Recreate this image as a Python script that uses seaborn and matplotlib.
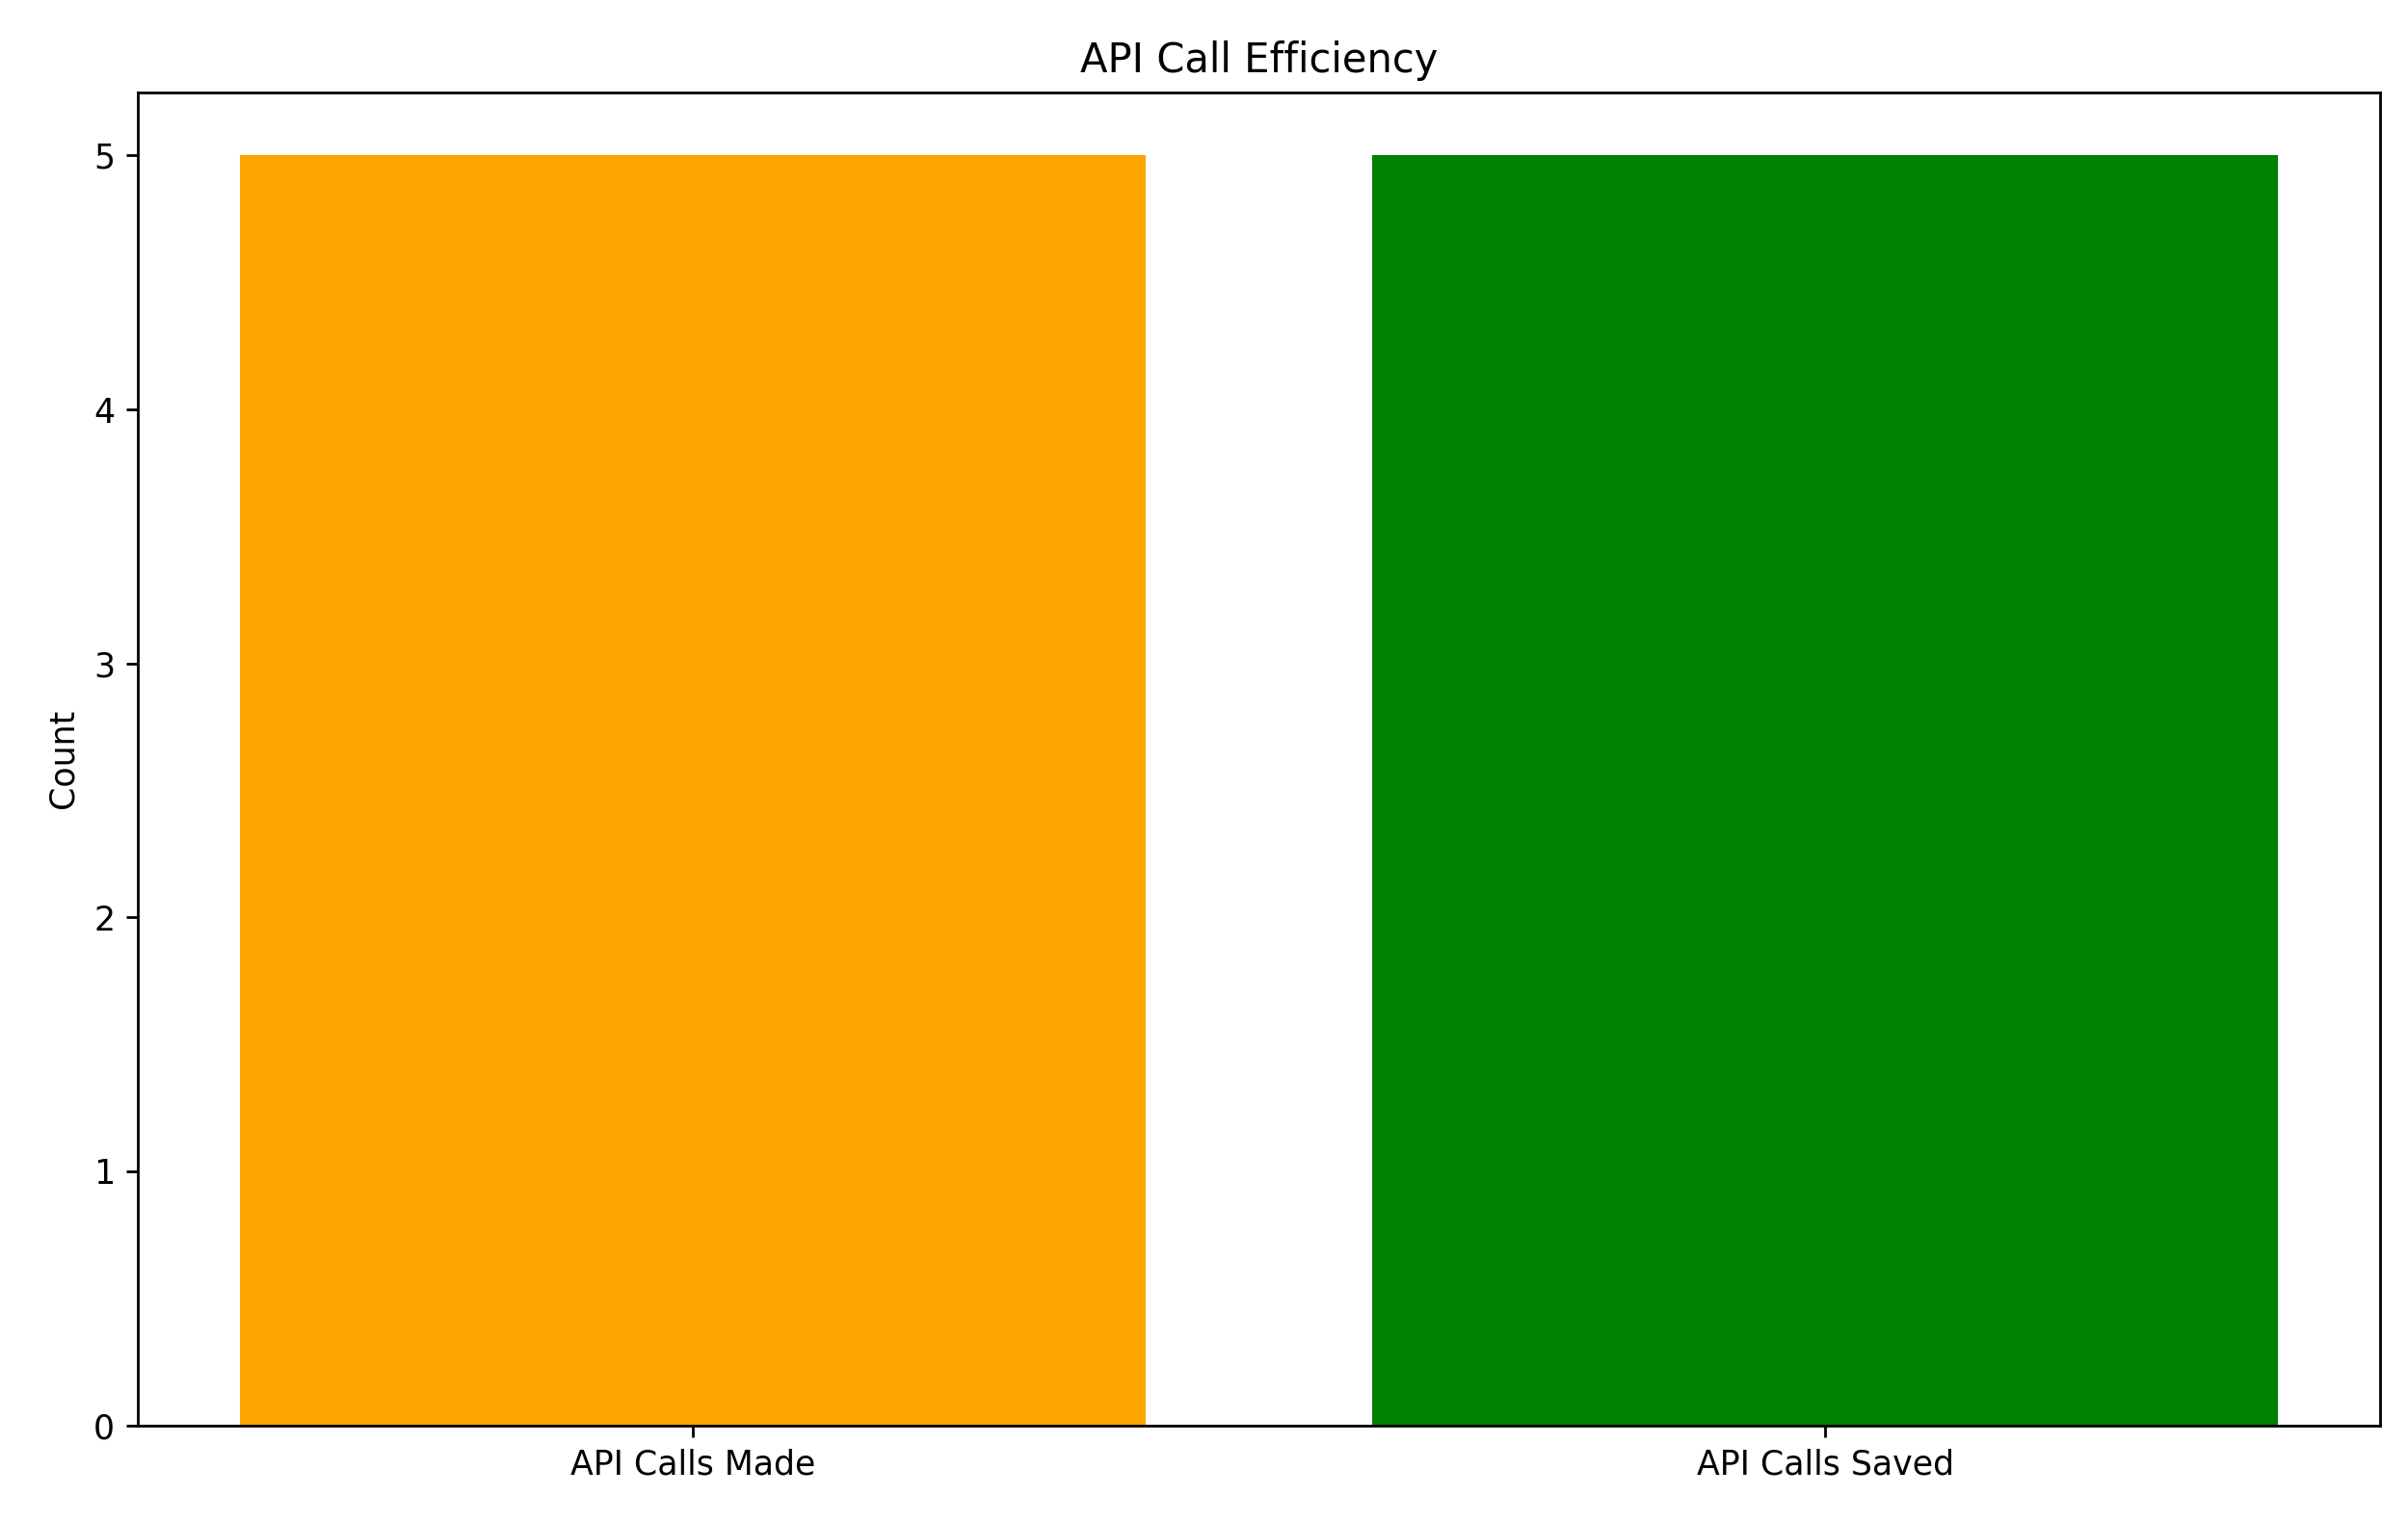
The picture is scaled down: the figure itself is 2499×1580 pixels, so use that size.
import matplotlib
matplotlib.use("Agg")
import matplotlib.pyplot as plt
import seaborn as sns
import pandas as pd

categories = ["API Calls Made", "API Calls Saved"]
counts = [5, 5]
colors = ["orange", "green"]

df = pd.DataFrame({"category": categories, "count": counts})

fig = plt.figure(figsize=(9.996, 6.32), dpi=250)
ax = fig.add_axes([0.0574, 0.0636, 0.9311, 0.8759])
sns.barplot(data=df, x="category", y="count", hue="category", palette=colors,
            width=0.8, saturation=1, legend=False, ax=ax)
ax.set_xlim(-0.49, 1.49)
ax.set_ylim(0, 5.25)
ax.set_xlabel("")
ax.set_ylabel("Count")
ax.set_title("API Call Efficiency")
fig.savefig("out.png", dpi=250)
